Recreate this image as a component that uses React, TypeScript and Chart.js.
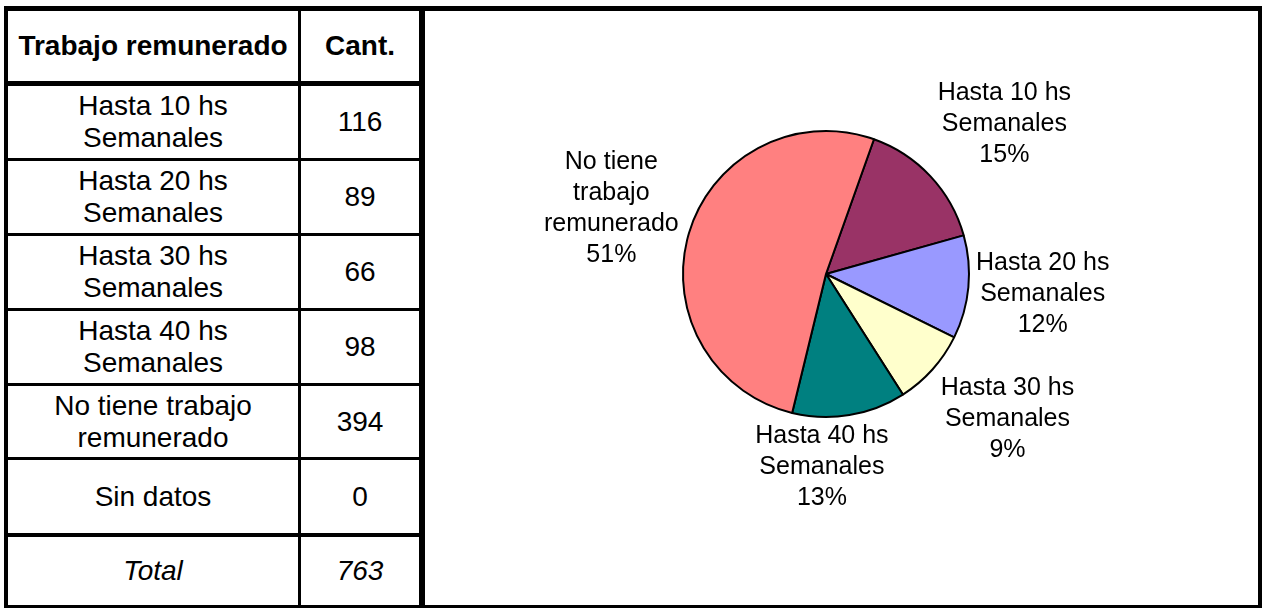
import React, { useEffect, useRef } from "react";
import { Chart, registerables } from "chart.js";

Chart.register(...registerables);

// ---------- data ----------
const tableHeaders = ["Trabajo remunerado", "Cant."];
const categoryLines: string[][] = [
  ["Hasta 10 hs", "Semanales"],
  ["Hasta 20 hs", "Semanales"],
  ["Hasta 30 hs", "Semanales"],
  ["Hasta 40 hs", "Semanales"],
  ["No tiene trabajo", "remunerado"],
  ["Sin datos"],
];
const pieLabelLines: string[][] = [
  ["Hasta 10 hs", "Semanales"],
  ["Hasta 20 hs", "Semanales"],
  ["Hasta 30 hs", "Semanales"],
  ["Hasta 40 hs", "Semanales"],
  ["No tiene", "trabajo", "remunerado"],
  ["Sin datos"],
];
const counts = [116, 89, 66, 98, 394, 0];
const totalLabel = "Total";
const sliceColors = ["#993366", "#9999FF", "#FFFFCC", "#008080", "#FF8080", "#80FFFF"];

// ---------- helpers ----------
const total = counts.reduce((a, b) => a + b, 0);

function roundedPercents(vals: number[]): number[] {
  const sum = vals.reduce((a, b) => a + b, 0);
  const raw = vals.map((v) => (v / sum) * 100);
  const fl = raw.map((r) => Math.floor(r));
  let rest = 100 - fl.reduce((a, b) => a + b, 0);
  const order = raw
    .map((r, i) => ({ i, rem: r - Math.floor(r) }))
    .sort((a, b) => b.rem - a.rem);
  for (let k = 0; k < order.length && rest > 0; k++, rest--) fl[order[k].i] += 1;
  return fl;
}
const percents = roundedPercents(counts);

const FONT = 'Arial, "Liberation Sans", sans-serif';

const outsideLabels = {
  id: "outsideLabels",
  afterDatasetsDraw(chart: any, _args: any, opts: any) {
    const ctx = chart.ctx;
    const meta = chart.getDatasetMeta(0);
    const data = chart.data.datasets[0].data as number[];
    ctx.save();
    ctx.font = `${opts.fontSize}px ${FONT}`;
    ctx.fillStyle = "#000";
    ctx.textAlign = "center";
    ctx.textBaseline = "middle";
    meta.data.forEach((arc: any, i: number) => {
      if (!data[i]) return;
      const p = arc.getProps(["x", "y", "startAngle", "endAngle", "outerRadius"], true);
      const mid = (p.startAngle + p.endAngle) / 2;
      const ux = Math.cos(mid);
      const uy = Math.sin(mid);
      const lines = [...opts.lines[i], opts.percents[i] + "%"];
      const w = Math.max(...lines.map((l: string) => ctx.measureText(l).width));
      const h = lines.length * opts.lineHeight;
      const d = p.outerRadius + opts.gap;
      const n = opts.nudges[i] || [0, 0];
      const cx = p.x + ux * d + (ux * w) / 2 + n[0];
      const cy = p.y + uy * d + (uy * h) / 2 + n[1];
      lines.forEach((l: string, k: number) => {
        ctx.fillText(l, cx, cy - h / 2 + opts.lineHeight * (k + 0.5));
      });
    });
    ctx.restore();
  },
};

// ---------- layout helpers ----------
const black = "#000";
function Line(props: { x: number; y: number; w: number; h: number }) {
  return (
    <div
      style={{
        position: "absolute",
        left: props.x,
        top: props.y,
        width: props.w,
        height: props.h,
        background: black,
      }}
    />
  );
}

function Cell(props: {
  x: number;
  y: number;
  w: number;
  h: number;
  lines: string[];
  bold?: boolean;
  italic?: boolean;
}) {
  return (
    <div
      style={{
        position: "absolute",
        left: props.x,
        top: props.y,
        width: props.w,
        height: props.h,
        display: "flex",
        flexDirection: "column",
        alignItems: "center",
        justifyContent: "center",
        textAlign: "center",
        fontFamily: FONT,
        fontSize: 28,
        lineHeight: "32px",
        fontWeight: props.bold ? "bold" : "normal",
        fontStyle: props.italic ? "italic" : "normal",
        color: "#000",
        whiteSpace: "nowrap",
      }}
    >
      {props.lines.map((l, i) => (
        <div key={i}>{l}</div>
      ))}
    </div>
  );
}

export default function App() {
  const canvasRef = useRef<HTMLCanvasElement | null>(null);

  useEffect(() => {
    if (!canvasRef.current) return;
    const chart = new Chart(canvasRef.current, {
      type: "pie",
      data: {
        labels: categoryLines.map((l) => l.join(" ")),
        datasets: [
          {
            data: counts,
            backgroundColor: sliceColors,
            borderColor: "#000",
            borderWidth: 2,
          },
        ],
      },
      options: {
        animation: false,
        responsive: false,
        rotation: 19.6,
        layout: { padding: { left: 257, right: 288, top: 119, bottom: 187 } },
        plugins: {
          legend: { display: false },
          tooltip: { enabled: false },
          outsideLabels: {
            lines: pieLabelLines,
            percents,
            fontSize: 25,
            lineHeight: 31,
            gap: 22,
            nudges: [
              [9, -6],
              [-14, 0],
              [9, 4],
              [-42, -16],
              [8, 0],
              [0, 0],
            ],
          },
        } as any,
      },
      plugins: [outsideLabels],
    });
    return () => chart.destroy();
  }, []);

  // table geometry
  const col1X = 8,
    col1W = 290,
    col2X = 301,
    col2W = 118;
  const rowTops = [86, 161, 236, 311, 386, 460];
  const rowBottoms = [158, 233, 308, 383, 457, 533];

  return (
    <div
      style={{
        position: "absolute",
        left: 0,
        top: 0,
        width: 1262,
        height: 608,
        background: "#fff",
        overflow: "hidden",
      }}
    >
      {/* header */}
      <Cell x={col1X} y={11} w={col1W} h={70} lines={[tableHeaders[0]]} bold />
      <Cell x={col2X} y={11} w={col2W} h={70} lines={[tableHeaders[1]]} bold />
      {categoryLines.map((lines, i) => (
        <React.Fragment key={i}>
          <Cell x={col1X} y={rowTops[i]} w={col1W} h={rowBottoms[i] - rowTops[i]} lines={lines} />
          <Cell
            x={col2X}
            y={rowTops[i]}
            w={col2W}
            h={rowBottoms[i] - rowTops[i]}
            lines={[String(counts[i])]}
          />
        </React.Fragment>
      ))}
      <Cell x={col1X} y={537} w={col1W} h={68} lines={[totalLabel]} italic />
      <Cell x={col2X} y={537} w={col2W} h={68} lines={[String(total)]} italic />

      {/* grid lines */}
      <Line x={4} y={6} w={1258} h={5} />
      <Line x={4} y={605} w={1258} h={3} />
      <Line x={4} y={6} w={4} h={602} />
      <Line x={1258} y={6} w={4} h={602} />
      <Line x={298} y={6} w={3} h={602} />
      <Line x={419} y={6} w={6} h={602} />
      <Line x={4} y={81} w={421} h={5} />
      {[158, 233, 308, 383, 457].map((y) => (
        <Line key={y} x={4} y={y} w={421} h={3} />
      ))}
      <Line x={4} y={533} w={421} h={4} />

      {/* chart */}
      <canvas
        ref={canvasRef}
        width={833}
        height={594}
        style={{ position: "absolute", left: 425, top: 11, width: 833, height: 594 }}
      />
    </div>
  );
}
